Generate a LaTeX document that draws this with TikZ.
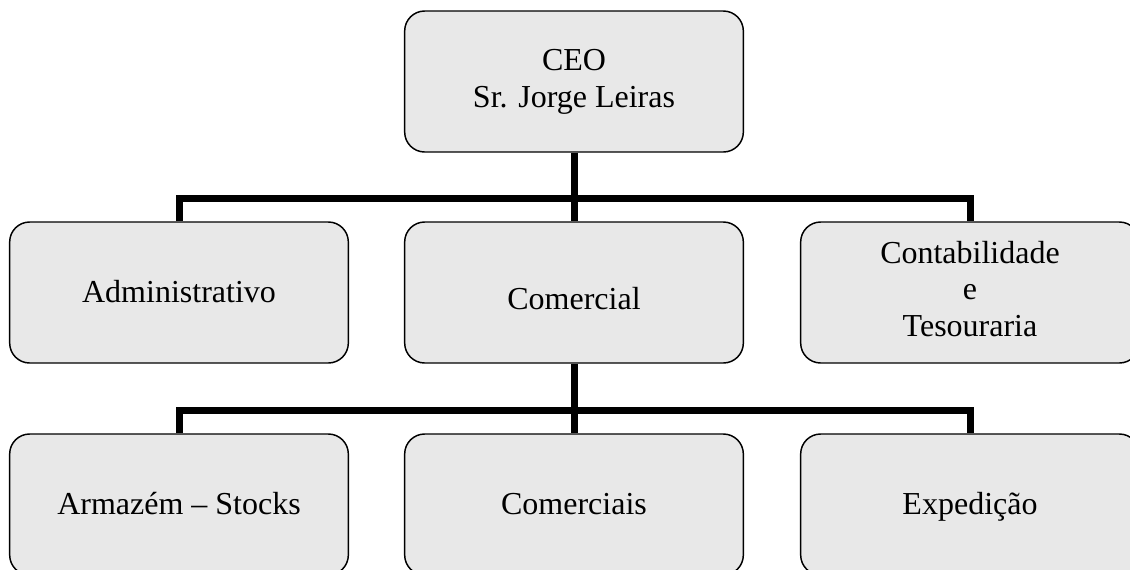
\documentclass[tikz,border=0pt]{standalone}
\usepackage{fontspec}
\setmainfont{Liberation Serif}
\usetikzlibrary{backgrounds}
\definecolor{boxfill}{RGB}{232,232,232}
\tikzset{
  orgbox/.style={draw=black, line width=1.1pt, fill=boxfill, rounded corners=15pt,
    minimum width=254pt, minimum height=105.75pt, inner sep=0pt, align=center,
    font=\fontsize{24}{27.5}\selectfont,
    execute at begin node=\rule{0pt}{23.75pt}, execute at end node=\strut},
  link/.style={draw=black, line width=5.25pt}
}
\begin{document}
\begin{tikzpicture}[x=0.75pt, y=-0.75pt]
\useasboundingbox (0,0) rectangle (1130,569);
\clip (0,0) rectangle (1130,569);
\node[orgbox] (ceo) at (574,81.5) {CEO\strut\\Sr. Jorge Leiras};
\node[orgbox] (adm) at (179,292.5) {Administrativo};
\node[orgbox] (com) at (574,292.5) {\raisebox{-5.25pt}[19.25pt][8.25pt]{Comercial}};
\node[orgbox] (cont) at (970,292.5) {Contabilidade\strut\\e\strut\\Tesouraria};
\node[orgbox] (arm) at (179,504.5) {Armazém – Stocks};
\node[orgbox] (coms) at (574,504.5) {Comerciais};
\node[orgbox] (exp) at (970,504.5) {Expedição};
\coordinate (b1) at (574,198);
\coordinate (b2) at (574,410);
\begin{scope}[on background layer]
\draw[link] (ceo.south) -- (com.north);
\draw[link] (adm.north) |- (b1) -| (cont.north);
\draw[link] (com.south) -- (coms.north);
\draw[link] (arm.north) |- (b2) -| (exp.north);
\end{scope}
\end{tikzpicture}
\end{document}
